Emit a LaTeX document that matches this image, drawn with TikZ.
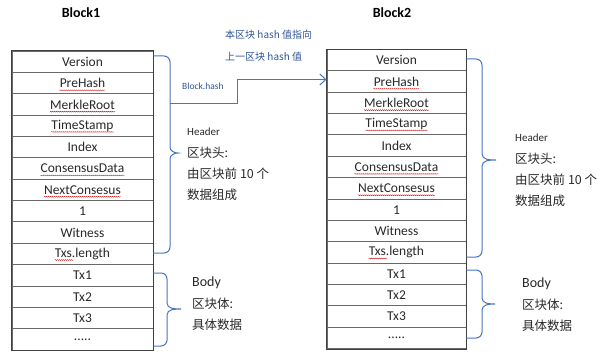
\documentclass[tikz,border=0pt]{standalone}
\usepackage{fontspec}
\setmainfont{Carlito}
\newfontfamily\cjk{Noto Sans CJK SC}
\usetikzlibrary{arrows.meta,calc,decorations.pathmorphing}
\definecolor{lineblue}{RGB}{72,116,196}
\definecolor{textblue}{RGB}{47,84,150}
\definecolor{txtgray}{RGB}{40,40,40}
\definecolor{rowline}{RGB}{105,105,105}
\newcommand\fivedots{.....}
\tikzset{
  rowbox/.style={draw=rowline,line width=0.9pt,minimum width=#1,minimum height=21.36pt,inner sep=0pt},
  rowtxt/.style={font=\fontsize{13.5}{15}\selectfont,text=txtgray,inner sep=0pt},
  title/.style={font=\fontsize{14}{16}\selectfont\bfseries,text=black},
  note/.style={anchor=west,inner sep=0pt,text=txtgray},
  bluenote/.style={anchor=west,inner sep=0pt,text=textblue},
  bracepath/.style={draw=lineblue,line width=1pt},
  squig/.style={draw=red!80!black,line width=0.3pt,decorate,decoration={snake,amplitude=0.5pt,segment length=2pt}}
}
\begin{document}
\begin{tikzpicture}[x=1pt,y=-1pt]
\useasboundingbox (0,0) rectangle (597,353);
% titles
\node[title] (t1) at (81,13) {Block1};
\node[title] (t2) at (392,13) {Block2};
% tables
\foreach \blk/\cx/\top/\w in {1/82.5/51/141, 2/396.5/49.5/139}{
  \foreach \i/\lab/\sq in {0/Version/0,1/PreHash/1,2/MerkleRoot/1,3/TimeStamp/1,4/Index/0,5/ConsensusData/1,6/NextConsesus/1,7/1/0,8/Witness/0,9/Txs.length/2,10/Tx1/0,11/Tx2/0,12/Tx3/0,13/\fivedots/0}{
    \node[rowbox=\w] (b\blk r\i) at (\cx,{\top+(\i+0.5)*21.36}) {};
    \node[rowtxt] (w\blk r\i) at (b\blk r\i.center) {\lab};
    \ifnum\sq=1
      \draw[squig] ([yshift=-2.6pt]w\blk r\i.base west) -- ([yshift=-2.6pt]w\blk r\i.base east);
    \fi
    \ifnum\sq=2
      \draw[squig] ([yshift=-2.6pt]w\blk r\i.base west) -- ([yshift=-2.6pt]$(w\blk r\i.base west)!0.33!(w\blk r\i.base east)$);
    \fi
  }
  \draw[draw=black!75,line width=0.9pt] (b\blk r0.north west) rectangle (b\blk r13.south east);
}
% braces block1
\draw[bracepath] (b1r0.east |- 0,56) -- (164,56) to[out=0,in=90] (170,62) -- (170,147)
  to[out=-90,in=180] (178,153) to[out=180,in=90] (170,159) -- (170,247) to[out=-90,in=0] (164,253) -- (b1r9.east |- 0,253);
\draw[bracepath] (b1r10.east |- 0,273) -- (161,273) to[out=0,in=90] (167,279) -- (167,303)
  to[out=-90,in=180] (181,309) to[out=180,in=90] (167,315) -- (167,340) to[out=-90,in=0] (161,346) -- (b1r13.east |- 0,346);
% braces block2
\draw[bracepath] (b2r0.east |- 0,59) -- (476,59) to[out=0,in=90] (482,65) -- (482,154)
  to[out=-90,in=180] (496,160) to[out=180,in=90] (482,166) -- (482,251) to[out=-90,in=0] (476,257) -- (b2r9.east |- 0,257);
\draw[bracepath] (b2r10.east |- 0,270) -- (476,270) to[out=0,in=90] (482,276) -- (482,298)
  to[out=-90,in=180] (495,304) to[out=180,in=90] (482,310) -- (482,332) to[out=-90,in=0] (476,338) -- (b2r13.east |- 0,338);
% arrow
\coordinate (hb1) at (170,103);
\draw[draw=lineblue,line width=1pt,-{Straight Barb[length=6pt,width=11pt,line width=1pt]}]
  (hb1) -- (237,103) -- (237,79.5) -- (b2r1.west |- 0,79.5);
% labels
\node[bluenote,font=\fontsize{9.5}{11}\selectfont] (bh) at (182,86) {Block.hash};
\node[bluenote,font=\cjk\fontsize{10}{12}\selectfont] (n1) at (225,35) {本区块 hash 值指向};
\node[bluenote,font=\cjk\fontsize{10}{12}\selectfont] (n2) at (225,57) {上一区块 hash 值};
% header notes
\foreach \blk/\hx/\hy/\bx/\by in {1/187/132/192/283, 2/515/138/522/284}{
  \node[note,font=\fontsize{11}{13}\selectfont] (h\blk a) at (\hx,\hy) {Header};
  \node[note,font=\cjk\fontsize{12.5}{14}\selectfont] (h\blk b) at (\hx,\hy+21) {区块头:};
  \node[note,font=\cjk\fontsize{12.5}{14}\selectfont] (h\blk c) at (\hx,\hy+42) {由区块前 10 个};
  \node[note,font=\cjk\fontsize{12.5}{14}\selectfont] (h\blk d) at (\hx,\hy+63) {数据组成};
  \node[note,font=\fontsize{14}{16}\selectfont] (d\blk a) at (\bx,\by) {Body};
  \node[note,font=\cjk\fontsize{12.5}{14}\selectfont] (d\blk b) at (\bx,\by+21) {区块体:};
  \node[note,font=\cjk\fontsize{12.5}{14}\selectfont] (d\blk c) at (\bx,\by+42) {具体数据};
}
\end{tikzpicture}
\end{document}
